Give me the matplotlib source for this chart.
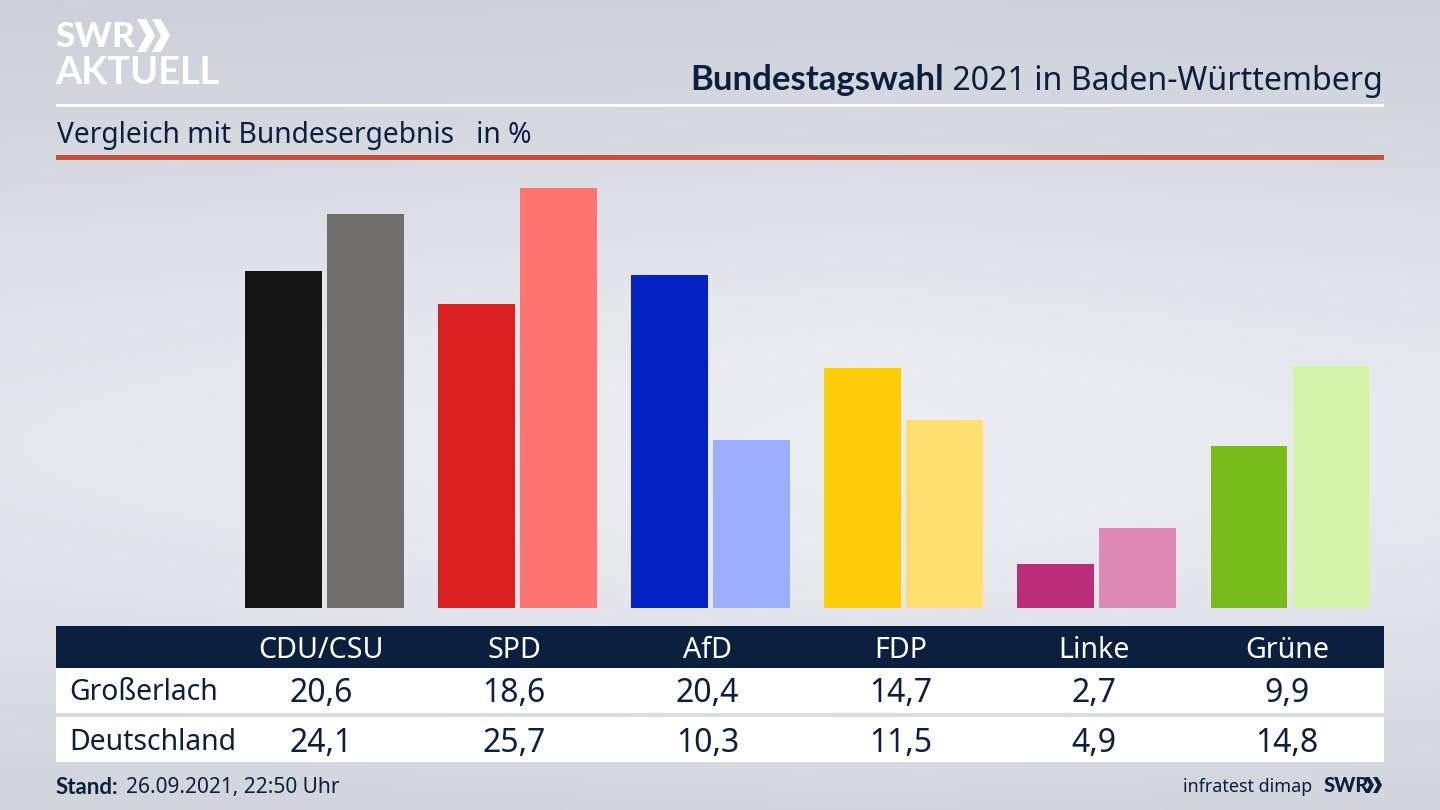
import matplotlib
matplotlib.use("Agg")
import matplotlib.pyplot as plt
from matplotlib.patches import Polygon, Rectangle
import numpy as np

parties = ["CDU/CSU", "SPD", "AfD", "FDP", "Linke", "Grüne"]
grosserlach = [20.6, 18.6, 20.4, 14.7, 2.7, 9.9]
deutschland = [24.1, 25.7, 10.3, 11.5, 4.9, 14.8]
colors_local = ["#141414", "#d8201e", "#0222c4", "#ffcc08", "#bb2d78", "#78bc1c"]
colors_national = ["#706f6c", "#ff7370", "#9eaeff", "#ffdf70", "#de88b6", "#d2f5a8"]
row_labels = ["Großerlach", "Deutschland"]

NAVY = "#0b1f3f"
BOLD = ["Lato", "Liberation Sans", "DejaVu Sans"]
plt.rcParams["font.family"] = ["Noto Sans", "DejaVu Sans"]

fig = plt.figure(figsize=(14.4, 8.1), dpi=100)

# overlay in pixel coordinates for background, table and header
bg = fig.add_axes([0, 0, 1, 1])
bg.set_xlim(0, 1440)
bg.set_ylim(810, 0)
bg.axis("off")

yy, xx = np.mgrid[0:1:162j, 0:1:288j]
shade = np.exp(-((yy - 0.55) / 0.42) ** 2) * (1 - 0.35 * np.abs(xx - 0.6))
light = np.array([236, 238, 243]) / 255
dark = np.array([200, 204, 212]) / 255
img = dark + (light - dark) * shade[..., None]
bg.imshow(img, extent=(0, 1440, 810, 0), aspect="auto", zorder=0, interpolation="bilinear")

bg.add_patch(Rectangle((56, 104), 1328, 3, color="white", lw=0))
bg.add_patch(Rectangle((56, 155), 1328, 5, color="#c8503c", lw=0))
bg.add_patch(Rectangle((56, 626), 1328, 42, color=NAVY, lw=0))
bg.add_patch(Rectangle((56, 668), 1328, 45, color="white", lw=0))
bg.add_patch(Rectangle((56, 717), 1328, 45, color="white", lw=0))

# logo
bg.text(55, 37, "SWR", color="white", fontsize=25.5, fontweight="black", family=BOLD, va="center", ha="left")
bg.text(55, 73, "AKTUELL", color="white", fontsize=27.3, fontweight="bold", family=BOLD, va="center", ha="left")


def chevrons(x, y, h, w, gap, color):
    for dx in (0, gap):
        bg.add_patch(Polygon([(x + dx, y), (x + dx + w * 0.5, y), (x + dx + w, y + h / 2),
                              (x + dx + w * 0.5, y + h), (x + dx, y + h),
                              (x + dx + w * 0.5, y + h / 2)], color=color, lw=0))


chevrons(137, 19, 33, 18, 15, "white")

# title, regular part first so the bold part can sit against it
title_rest = bg.text(1383, 81, " 2021 in Baden-Württemberg", color=NAVY, fontsize=23.1, va="center", ha="right")
fig.canvas.draw()
left_px = title_rest.get_window_extent().x0
bg.text(left_px, 80, "Bundestagswahl", color=NAVY, fontsize=25, fontweight="bold", family=BOLD, va="center", ha="right")

bg.text(57, 135, "Vergleich mit Bundesergebnis   in %", color=NAVY, fontsize=20.3, va="center", ha="left")

# bars
ax = fig.add_axes([228 / 1440, (810 - 608) / 810, (1386.5 - 228) / 1440, 428 / 810])
ax.patch.set_alpha(0)
x = np.arange(len(parties))
ax.bar(x - 0.2123, grosserlach, width=0.398, color=colors_local)
ax.bar(x + 0.2123, deutschland, width=0.398, color=colors_national)
ax.set_xlim(-0.5, 5.5)
ax.set_ylim(0, 26.2)
ax.axis("off")

# table
for i, name in enumerate(parties):
    cx = 321 + i * 193.2
    bg.text(cx, 650, name, color="white", fontsize=20.6, va="center", ha="center")
    bg.text(cx, 694, f"{grosserlach[i]:.1f}".replace(".", ","), color=NAVY, fontsize=23, va="center", ha="center")
    bg.text(cx, 743, f"{deutschland[i]:.1f}".replace(".", ","), color=NAVY, fontsize=23, va="center", ha="center")
bg.text(69, 693, row_labels[0], color=NAVY, fontsize=20.4, va="center", ha="left")
bg.text(69, 742, row_labels[1], color=NAVY, fontsize=20.4, va="center", ha="left")

# footer
bg.text(56, 787, "Stand:", color=NAVY, fontsize=16, fontweight="bold", family=BOLD, va="center", ha="left")
bg.text(126, 787, "26.09.2021, 22:50 Uhr", color=NAVY, fontsize=15, va="center", ha="left")
bg.text(1312, 787, "infratest dimap", color=NAVY, fontsize=12.9, va="center", ha="right")
bg.text(1324, 786, "SWR", color=NAVY, fontsize=14.5, fontweight="black", family=BOLD, va="center", ha="left")
chevrons(1365, 777, 16, 9, 8, NAVY)

fig.savefig("out.png", dpi=100)
